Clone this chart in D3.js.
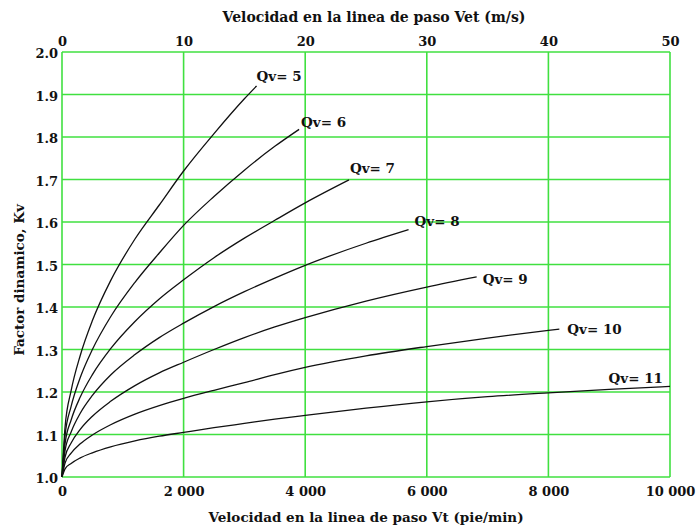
<!DOCTYPE html>
<html>
<head>
<meta charset="utf-8">
<script src="https://cdn.jsdelivr.net/npm/d3@7"></script>
<style>
  body { margin: 0; background: #fff; }
  svg text { font-family: "DejaVu Serif", serif; font-weight: bold; fill: #111; }
</style>
</head>
<body>
<svg width="697" height="529"></svg>
<script>
// speeds (pie/min) where the curves were read
const speedPts = [0, 50, 150, 300, 500, 800, 1200, 1600, 2000, 2500, 3000, 3500, 4000, 5000, 6000, 7000, 8000, 9000, 10000];

// Kv (only up to the curve's end)
const kvQv5  = [1.0, 1.117, 1.203, 1.286, 1.368, 1.462, 1.560, 1.640, 1.720, 1.808, 1.890];
const kvQv6  = [1.0, 1.097, 1.166, 1.234, 1.300, 1.377, 1.458, 1.527, 1.592, 1.660, 1.722, 1.778];
const kvQv7  = [1.0, 1.078, 1.134, 1.188, 1.241, 1.302, 1.366, 1.419, 1.464, 1.516, 1.562, 1.604, 1.645];
const kvQv8  = [1.0, 1.062, 1.106, 1.150, 1.192, 1.240, 1.288, 1.328, 1.362, 1.401, 1.436, 1.468, 1.498, 1.550];
const kvQv9  = [1.0, 1.047, 1.080, 1.112, 1.143, 1.178, 1.215, 1.245, 1.270, 1.300, 1.328, 1.353, 1.375, 1.414, 1.447];
const kvQv10 = [1.0, 1.033, 1.056, 1.078, 1.099, 1.123, 1.148, 1.168, 1.185, 1.204, 1.222, 1.241, 1.258, 1.285, 1.307, 1.327, 1.345];
const kvQv11 = [1.0, 1.019, 1.032, 1.045, 1.057, 1.071, 1.085, 1.096, 1.105, 1.116, 1.126, 1.136, 1.145, 1.162, 1.177, 1.189, 1.198, 1.206, 1.213];

// where each curve stops
const endSpeed = [3200, 3900, 4720, 5700, 6820, 8180, 10000];
const endKv    = [1.920, 1.818, 1.699, 1.582, 1.471, 1.348, 1.213];

const qvLevels = [5, 6, 7, 8, 9, 10, 11];
const kvSeries = [kvQv5, kvQv6, kvQv7, kvQv8, kvQv9, kvQv10, kvQv11];

const bottomTicks = [0, 2000, 4000, 6000, 8000, 10000];
const topTicks = [0, 10, 20, 30, 40, 50];
const leftTicks = [1.0, 1.1, 1.2, 1.3, 1.4, 1.5, 1.6, 1.7, 1.8, 1.9, 2.0];

// label offsets from the curve end (dx, dy, anchor)
const labelPos = [
  [0, -5, "start"], [2, -2, "start"], [1, -7, "start"], [6, -4, "start"],
  [6, 7, "start"], [8, 5, "start"], [-7, -3, "end"]
];

const svg = d3.select("svg");
const m = { left: 62, right: 670, top: 52, bottom: 477 };
const green = "#40e040";

const x = d3.scaleLinear().domain([0, 10000]).range([m.left, m.right]);
const xTop = d3.scaleLinear().domain([0, 50]).range([m.left, m.right]);
const y = d3.scaleLinear().domain([1, 2]).range([m.bottom, m.top]);

/* grid */
const grid = svg.append("g").attr("stroke", green).attr("stroke-width", 1.6);
grid.selectAll(".v").data(bottomTicks).enter().append("line")
  .attr("x1", d => x(d)).attr("x2", d => x(d))
  .attr("y1", y(1)).attr("y2", y(2));
grid.selectAll(".h").data(leftTicks).enter().append("line")
  .attr("x1", x(0)).attr("x2", x(10000))
  .attr("y1", d => y(d)).attr("y2", d => y(d));

/* axes, text only */
const spaceFmt = d => d3.format(",")(d).replace(/,/g, " ");

const gBottom = svg.append("g").attr("transform", `translate(0, ${m.bottom})`)
  .call(d3.axisBottom(x).tickValues(bottomTicks).tickSize(0).tickPadding(10).tickFormat(spaceFmt));
const gTop = svg.append("g").attr("transform", `translate(0, ${m.top})`)
  .call(d3.axisTop(xTop).tickValues(topTicks).tickSize(0).tickPadding(6).tickFormat(d3.format("d")));
const gLeft = svg.append("g").attr("transform", `translate(${m.left}, 0)`)
  .call(d3.axisLeft(y).tickValues(leftTicks).tickSize(0).tickPadding(4).tickFormat(d3.format(".1f")));

[gBottom, gTop, gLeft].forEach(g => {
  g.select(".domain").remove();
  g.selectAll("text").attr("font-family", null).attr("font-size", 13).attr("fill", "#111");
});
gLeft.selectAll("text").attr("dy", "0.45em");

/* curves */
const line = d3.line()
  .x(d => x(d[0]))
  .y(d => y(d[1]))
  .curve(d3.curveMonotoneX);

kvSeries.forEach((kv, i) => {
  const pts = kv.map((v, j) => [speedPts[j], v]);
  if (pts[pts.length - 1][0] < endSpeed[i]) pts.push([endSpeed[i], endKv[i]]);
  svg.append("path")
    .attr("d", line(pts))
    .attr("fill", "none")
    .attr("stroke", "#111")
    .attr("stroke-width", 1.3);

  svg.append("text")
    .attr("x", x(endSpeed[i]) + labelPos[i][0])
    .attr("y", y(endKv[i]) + labelPos[i][1])
    .attr("text-anchor", labelPos[i][2])
    .attr("font-size", 13.5)
    .text("Qv= " + qvLevels[i]);
});

/* titles */
svg.append("text")
  .attr("x", (m.left + m.right) / 2 + 8).attr("y", 22)
  .attr("text-anchor", "middle").attr("font-size", 14)
  .text("Velocidad en la linea de paso Vet (m/s)");

svg.append("text")
  .attr("x", (m.left + m.right) / 2).attr("y", 522)
  .attr("text-anchor", "middle").attr("font-size", 13.5)
  .text("Velocidad en la linea de paso Vt (pie/min)");

svg.append("text")
  .attr("transform", "translate(24, 280) rotate(-90)")
  .attr("text-anchor", "middle").attr("font-size", 13.5)
  .text("Factor dinamico, Kv");
</script>
</body>
</html>
